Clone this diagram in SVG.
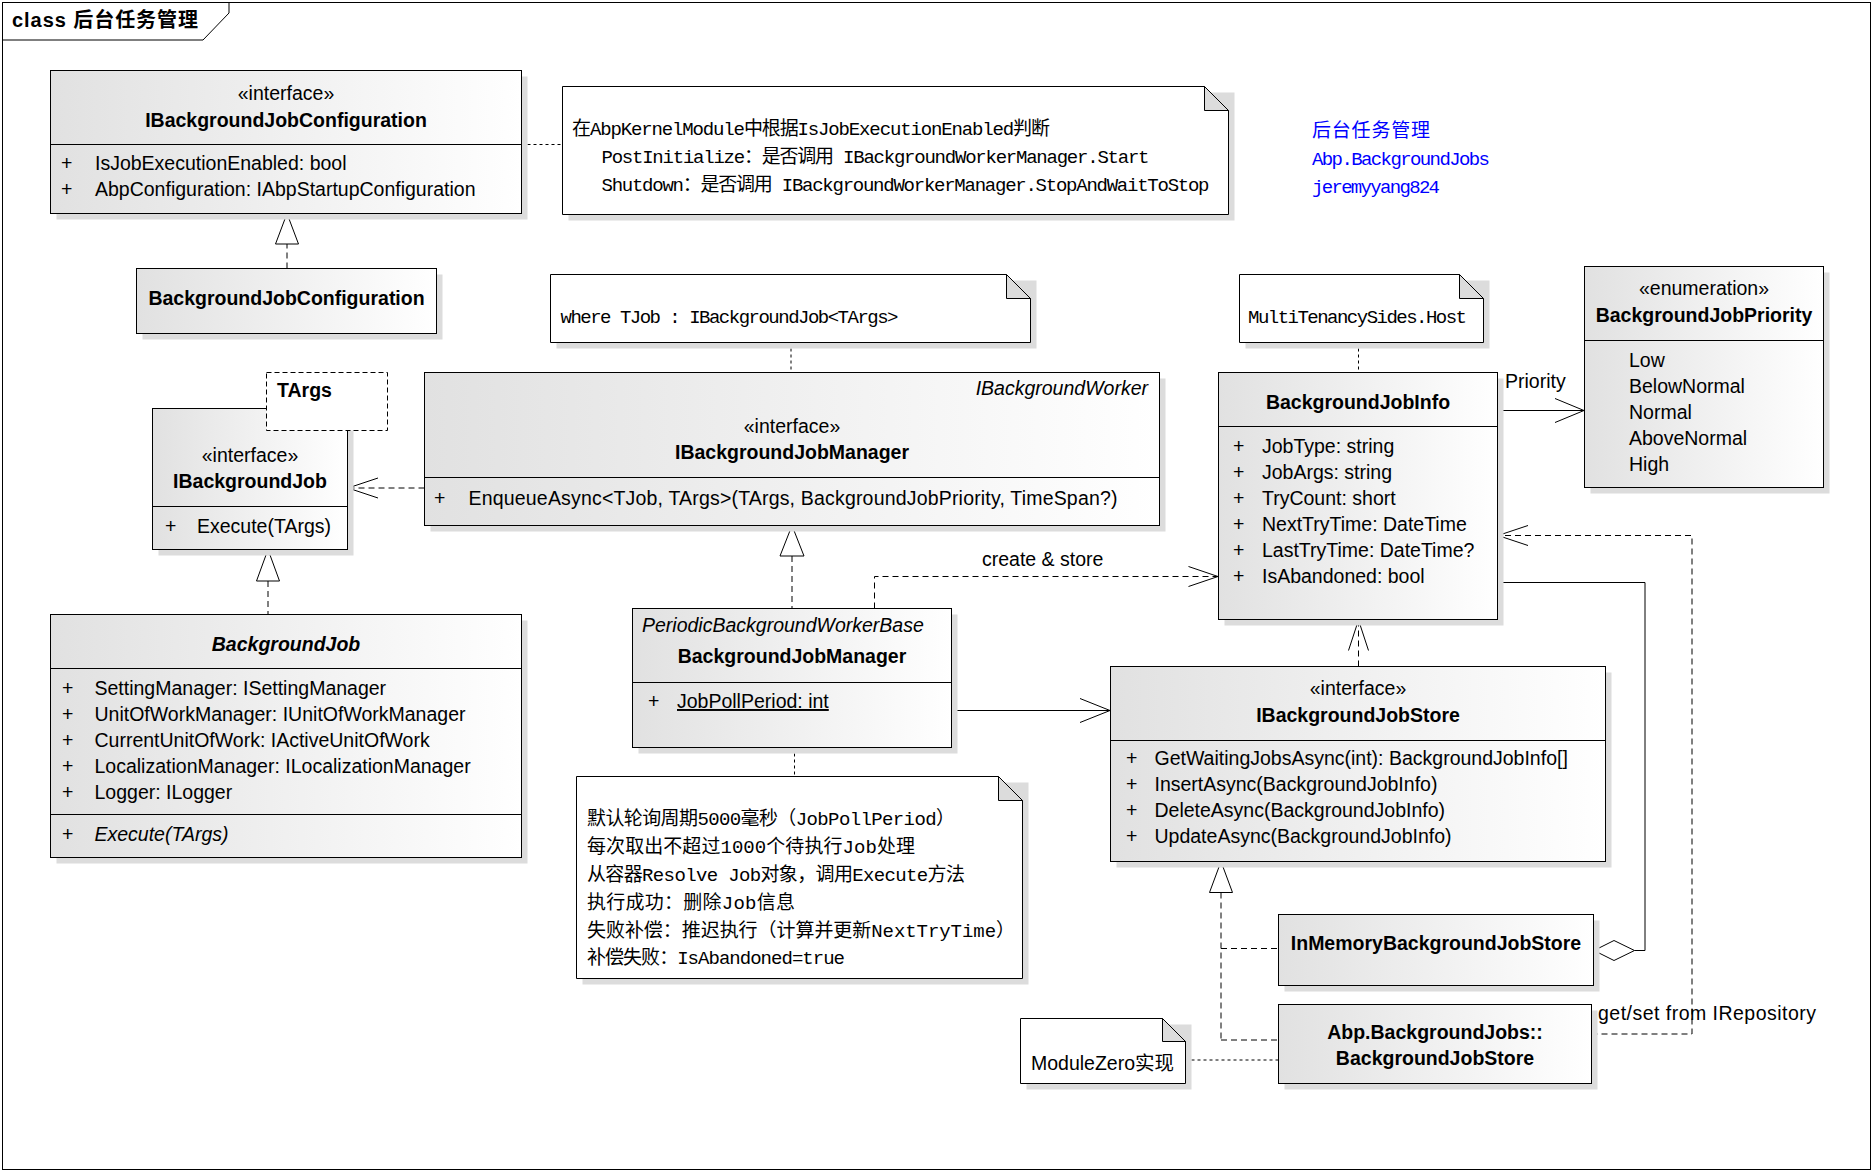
<svg xmlns="http://www.w3.org/2000/svg" width="1874" height="1172" viewBox="0 0 1874 1172">
<defs>
<linearGradient id="g" x1="0" y1="0" x2="1" y2="0">
<stop offset="0" stop-color="#e1e1e1"/>
<stop offset="1" stop-color="#ffffff"/>
</linearGradient>
<style>
.box{fill:url(#g);stroke:#000;stroke-width:1}
.sh{fill:#dcdcdc}
.note{fill:#fff;stroke:#000;stroke-width:1}
.fold{fill:#dcdcdc;stroke:#000;stroke-width:1}
.ln{stroke:#000;stroke-width:1;fill:none}
.dash{stroke-dasharray:6 4}
.dot{stroke-dasharray:3 3}
.tri{fill:#fff;stroke:#000;stroke-width:1}
.t{font-family:"Liberation Sans","Noto Sans CJK SC",sans-serif;font-size:19.5px;fill:#000}
.b{font-weight:bold}
.i{font-style:italic}
.m{text-anchor:middle}
.e{text-anchor:end}
.n{font-family:"Liberation Mono","Noto Sans CJK SC",monospace;font-size:19px;fill:#000}
.blue{fill:#0000ff}
</style>
</defs>
<rect width="1874" height="1172" fill="#fff"/>
<g id="frame">
<rect x="2.5" y="2.5" width="1868" height="1167" class="ln"/>
<path d="M2.5,40 H203 L229,13 V2.5" class="ln"/>
<text x="12" y="27" class="t b" style="font-size:20px" textLength="186" lengthAdjust="spacing">class 后台任务管理</text>
</g>

<g id="connectors">
<path d="M287,268.5 V244" class="ln dash"/>
<polygon points="287,213.5 275.5,244 298.5,244" class="tri"/>
<path d="M521.5,144.5 H562.5" class="ln dot"/>
<path d="M791,342.5 V372.5" class="ln dot"/>
<path d="M424.5,488 H348" class="ln dash"/>
<polyline points="378,478 348,488 378,498" class="ln"/>
<path d="M268,581 V614.5" class="ln dash"/>
<polygon points="268,549.5 256.5,581 279.5,581" class="tri"/>
<path d="M1358.5,342.5 V372.5" class="ln dot"/>
<path d="M1497.5,410.5 H1584" class="ln"/>
<polyline points="1555,398.5 1584,410.5 1555,422.5" class="ln"/>
<text x="1505" y="388" class="t">Priority</text>
<path d="M792,556 V608.5" class="ln dash"/>
<polygon points="792,525.5 780,556 804,556" class="tri"/>
<path d="M874.5,608.5 V576.5 H1218" class="ln dash"/>
<polyline points="1188.5,566.5 1218,576.5 1188.5,586.5" class="ln"/>
<text x="982" y="566" class="t">create &amp; store</text>
<path d="M951.5,710.5 H1110" class="ln"/>
<polyline points="1080,698.5 1110,710.5 1080,722.5" class="ln"/>
<path d="M794.5,747.5 V776.5" class="ln dot"/>
<path d="M1358.5,666.5 V620" class="ln dash"/>
<polyline points="1348.5,650.5 1358.5,620 1368.5,650.5" class="ln"/>
<polygon points="1221,861.5 1209.5,892.5 1232.5,892.5" class="tri"/>
<path d="M1221,892.5 V1040 M1221,948.5 H1278.5 M1221,1040 H1278.5" class="ln dash"/>
<path d="M1497.5,582.5 H1645 V950.5 H1634.5" class="ln"/>
<polygon points="1594,950.5 1614,940.5 1634.5,950.5 1614,960.5" class="tri"/>
<path d="M1591.5,1034 H1692 V535.5 H1498" class="ln dash"/>
<polyline points="1528,525.5 1498,535.5 1528,545.5" class="ln"/>
<text x="1598" y="1020" class="t" textLength="218" lengthAdjust="spacing">get/set from IRepository</text>
<path d="M1185.5,1060 H1278.5" class="ln dot"/>
</g>

<g id="IBackgroundJobConfiguration">
<rect x="56.5" y="76.5" width="471" height="143" class="sh"/>
<rect x="50.5" y="70.5" width="471" height="143" class="box"/>
<path d="M50.5,144.5 H521.5" class="ln"/>
<text x="286" y="100" class="t m">«interface»</text>
<text x="286" y="127" class="t b m">IBackgroundJobConfiguration</text>
<text x="61" y="170" class="t">+</text>
<text x="95" y="170" class="t">IsJobExecutionEnabled: bool</text>
<text x="61" y="196" class="t">+</text>
<text x="95" y="196" class="t">AbpConfiguration: IAbpStartupConfiguration</text>
</g>

<g id="BackgroundJobConfiguration">
<rect x="142.5" y="274.5" width="300" height="65" class="sh"/>
<rect x="136.5" y="268.5" width="300" height="65" class="box"/>
<text x="286.5" y="305" class="t b m">BackgroundJobConfiguration</text>
</g>

<g id="note-kernel">
<path d="M568.5,92.5 H1234.5 V220.5 H568.5 Z" class="sh"/>
<path d="M562.5,86.5 H1204.5 L1228.5,110.5 V214.5 H562.5 Z" class="note"/>
<path d="M1204.5,86.5 V110.5 H1228.5 Z" class="fold"/>
<text x="572" y="135" class="n" textLength="478" lengthAdjust="spacing">在AbpKernelModule中根据IsJobExecutionEnabled判断</text>
<text x="601.5" y="163" class="n" textLength="548" lengthAdjust="spacing">PostInitialize：是否调用 IBackgroundWorkerManager.Start</text>
<text x="601.5" y="191" class="n" textLength="608" lengthAdjust="spacing">Shutdown：是否调用 IBackgroundWorkerManager.StopAndWaitToStop</text>
</g>

<g id="title-info">
<text x="1312" y="137" class="n blue" textLength="118" lengthAdjust="spacing">后台任务管理</text>
<text x="1312" y="165" class="n blue" textLength="178" lengthAdjust="spacing">Abp.BackgroundJobs</text>
<text x="1312" y="193" class="n blue" textLength="128" lengthAdjust="spacing">jeremyyang824</text>
</g>

<g id="note-where">
<path d="M556.5,280.5 H1036.5 V348.5 H556.5 Z" class="sh"/>
<path d="M550.5,274.5 H1006.5 L1030.5,298.5 V342.5 H550.5 Z" class="note"/>
<path d="M1006.5,274.5 V298.5 H1030.5 Z" class="fold"/>
<text x="560.5" y="323" class="n" textLength="338" lengthAdjust="spacing">where TJob : IBackgroundJob&lt;TArgs&gt;</text>
</g>

<g id="IBackgroundJobManager">
<rect x="430.5" y="378.5" width="735" height="153" class="sh"/>
<rect x="424.5" y="372.5" width="735" height="153" class="box"/>
<path d="M424.5,477.5 H1159.5" class="ln"/>
<text x="1148" y="395" class="t i e">IBackgroundWorker</text>
<text x="792" y="433" class="t m">«interface»</text>
<text x="792" y="459" class="t b m">IBackgroundJobManager</text>
<text x="434" y="505" class="t">+</text>
<text x="468.5" y="505" class="t" textLength="649" lengthAdjust="spacing">EnqueueAsync&lt;TJob, TArgs&gt;(TArgs, BackgroundJobPriority, TimeSpan?)</text>
</g>

<g id="IBackgroundJob">
<rect x="158.5" y="414.5" width="195" height="141" class="sh"/>
<rect x="152.5" y="408.5" width="195" height="141" class="box"/>
<path d="M152.5,506.5 H347.5" class="ln"/>
<text x="250" y="462" class="t m">«interface»</text>
<text x="250" y="488" class="t b m">IBackgroundJob</text>
<text x="165" y="533" class="t">+</text>
<text x="197" y="533" class="t">Execute(TArgs)</text>
</g>

<g id="TArgs">
<rect x="266.5" y="372.5" width="121" height="58" fill="#fff" stroke="#000" stroke-dasharray="5 3"/>
<text x="277" y="397" class="t b">TArgs</text>
</g>

<g id="BackgroundJob">
<rect x="56.5" y="620.5" width="471" height="243" class="sh"/>
<rect x="50.5" y="614.5" width="471" height="243" class="box"/>
<path d="M50.5,668.5 H521.5 M50.5,814.5 H521.5" class="ln"/>
<text x="286" y="651" class="t b i m">BackgroundJob</text>
<text x="62" y="695" class="t">+</text>
<text x="94.5" y="695" class="t">SettingManager: ISettingManager</text>
<text x="62" y="721" class="t">+</text>
<text x="94.5" y="721" class="t">UnitOfWorkManager: IUnitOfWorkManager</text>
<text x="62" y="747" class="t">+</text>
<text x="94.5" y="747" class="t">CurrentUnitOfWork: IActiveUnitOfWork</text>
<text x="62" y="773" class="t">+</text>
<text x="94.5" y="773" class="t">LocalizationManager: ILocalizationManager</text>
<text x="62" y="799" class="t">+</text>
<text x="94.5" y="799" class="t">Logger: ILogger</text>
<text x="62" y="841" class="t">+</text>
<text x="94.5" y="841" class="t i">Execute(TArgs)</text>
</g>

<g id="note-multitenancy">
<path d="M1245.5,280.5 H1489.5 V348.5 H1245.5 Z" class="sh"/>
<path d="M1239.5,274.5 H1459.5 L1483.5,298.5 V342.5 H1239.5 Z" class="note"/>
<path d="M1459.5,274.5 V298.5 H1483.5 Z" class="fold"/>
<text x="1248" y="323" class="n" textLength="219" lengthAdjust="spacing">MultiTenancySides.Host</text>
</g>

<g id="BackgroundJobInfo">
<rect x="1224.5" y="378.5" width="279" height="247" class="sh"/>
<rect x="1218.5" y="372.5" width="279" height="247" class="box"/>
<path d="M1218.5,426.5 H1497.5" class="ln"/>
<text x="1358" y="409" class="t b m">BackgroundJobInfo</text>
<text x="1233" y="453" class="t">+</text>
<text x="1262" y="453" class="t">JobType: string</text>
<text x="1233" y="479" class="t">+</text>
<text x="1262" y="479" class="t">JobArgs: string</text>
<text x="1233" y="505" class="t">+</text>
<text x="1262" y="505" class="t">TryCount: short</text>
<text x="1233" y="531" class="t">+</text>
<text x="1262" y="531" class="t">NextTryTime: DateTime</text>
<text x="1233" y="557" class="t">+</text>
<text x="1262" y="557" class="t">LastTryTime: DateTime?</text>
<text x="1233" y="583" class="t">+</text>
<text x="1262" y="583" class="t">IsAbandoned: bool</text>
</g>

<g id="BackgroundJobPriority">
<rect x="1590.5" y="272.5" width="239" height="221" class="sh"/>
<rect x="1584.5" y="266.5" width="239" height="221" class="box"/>
<path d="M1584.5,340.5 H1823.5" class="ln"/>
<text x="1704" y="295" class="t m">«enumeration»</text>
<text x="1704" y="322" class="t b m">BackgroundJobPriority</text>
<text x="1629" y="367" class="t">Low</text>
<text x="1629" y="393" class="t">BelowNormal</text>
<text x="1629" y="419" class="t">Normal</text>
<text x="1629" y="445" class="t">AboveNormal</text>
<text x="1629" y="471" class="t">High</text>
</g>

<g id="BackgroundJobManager">
<rect x="638.5" y="614.5" width="319" height="139" class="sh"/>
<rect x="632.5" y="608.5" width="319" height="139" class="box"/>
<path d="M632.5,682.5 H951.5" class="ln"/>
<text x="642" y="632" class="t i">PeriodicBackgroundWorkerBase</text>
<text x="792" y="663" class="t b m">BackgroundJobManager</text>
<text x="648" y="708" class="t">+</text>
<text x="677" y="708" class="t" text-decoration="underline">JobPollPeriod: int</text>
</g>

<g id="note-manager">
<path d="M582.5,782.5 H1028.5 V984.5 H582.5 Z" class="sh"/>
<path d="M576.5,776.5 H998.5 L1022.5,800.5 V978.5 H576.5 Z" class="note"/>
<path d="M998.5,776.5 V800.5 H1022.5 Z" class="fold"/>
<text x="587" y="825" class="n" textLength="368" lengthAdjust="spacing">默认轮询周期5000毫秒（JobPollPeriod）</text>
<text x="587" y="853" class="n" textLength="328" lengthAdjust="spacing">每次取出不超过1000个待执行Job处理</text>
<text x="587" y="881" class="n" textLength="378" lengthAdjust="spacing">从容器Resolve Job对象，调用Execute方法</text>
<text x="587" y="908.5" class="n" textLength="208" lengthAdjust="spacing">执行成功：删除Job信息</text>
<text x="587" y="937" class="n" textLength="428" lengthAdjust="spacing">失败补偿：推迟执行（计算并更新NextTryTime）</text>
<text x="587" y="964" class="n" textLength="258" lengthAdjust="spacing">补偿失败：IsAbandoned=true</text>
</g>

<g id="IBackgroundJobStore">
<rect x="1116.5" y="672.5" width="495" height="195" class="sh"/>
<rect x="1110.5" y="666.5" width="495" height="195" class="box"/>
<path d="M1110.5,740.5 H1605.5" class="ln"/>
<text x="1358" y="695" class="t m">«interface»</text>
<text x="1358" y="722" class="t b m">IBackgroundJobStore</text>
<text x="1126" y="765" class="t">+</text>
<text x="1154.5" y="765" class="t">GetWaitingJobsAsync(int): BackgroundJobInfo[]</text>
<text x="1126" y="791" class="t">+</text>
<text x="1154.5" y="791" class="t">InsertAsync(BackgroundJobInfo)</text>
<text x="1126" y="817" class="t">+</text>
<text x="1154.5" y="817" class="t">DeleteAsync(BackgroundJobInfo)</text>
<text x="1126" y="843" class="t">+</text>
<text x="1154.5" y="843" class="t">UpdateAsync(BackgroundJobInfo)</text>
</g>

<g id="InMemoryBackgroundJobStore">
<rect x="1284.5" y="920.5" width="315" height="71" class="sh"/>
<rect x="1278.5" y="914.5" width="315" height="71" class="box"/>
<text x="1436" y="950" class="t b m">InMemoryBackgroundJobStore</text>
</g>

<g id="BackgroundJobStore">
<rect x="1284.5" y="1010.5" width="313" height="79" class="sh"/>
<rect x="1278.5" y="1004.5" width="313" height="79" class="box"/>
<text x="1435" y="1039" class="t b m">Abp.BackgroundJobs::</text>
<text x="1435" y="1065" class="t b m">BackgroundJobStore</text>
</g>

<g id="note-modulezero">
<path d="M1026.5,1024.5 H1191.5 V1089.5 H1026.5 Z" class="sh"/>
<path d="M1020.5,1018.5 H1162.5 L1185.5,1041.5 V1083.5 H1020.5 Z" class="note"/>
<path d="M1162.5,1018.5 V1041.5 H1185.5 Z" class="fold"/>
<text x="1031" y="1070" class="t">ModuleZero实现</text>
</g>
</svg>
